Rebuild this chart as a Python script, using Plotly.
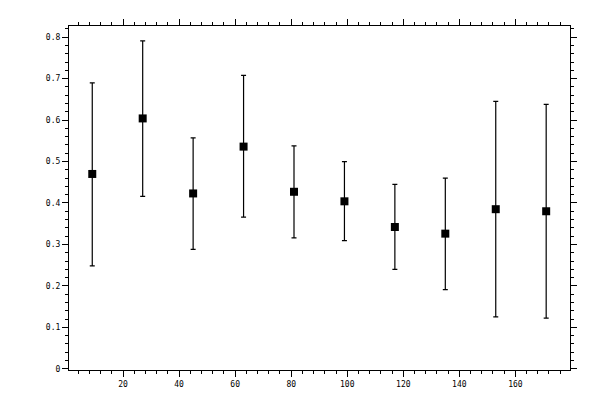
import plotly.graph_objects as go

# sample positions and measured means with their upper / lower bounds
x_pos = [9, 27, 45, 63, 81, 99, 117, 135, 153, 171]
mean_vals = [0.470, 0.604, 0.423, 0.536, 0.427, 0.404, 0.342, 0.326, 0.385, 0.380]
upper_vals = [0.690, 0.791, 0.557, 0.708, 0.538, 0.500, 0.445, 0.460, 0.645, 0.638]
lower_vals = [0.248, 0.416, 0.288, 0.366, 0.316, 0.309, 0.240, 0.191, 0.125, 0.122]

err_plus = [u - m for u, m in zip(upper_vals, mean_vals)]
err_minus = [m - l for m, l in zip(mean_vals, lower_vals)]

fig = go.Figure()

fig.add_trace(go.Scatter(
    x=x_pos,
    y=mean_vals,
    mode='markers',
    marker=dict(symbol='square', size=8, color='black'),
    error_y=dict(type='data', symmetric=False, array=err_plus, arrayminus=err_minus,
                 color='black', thickness=1.2, width=2.5),
    showlegend=False
))

tick_font = dict(family='DejaVu Sans Mono', size=8, color='black')

# boxed axes with ticks on every side, like the original
axis_common = dict(
    showgrid=False, zeroline=False,
    showline=True, linecolor='black', linewidth=1.2,
    mirror='ticks', ticks='outside', ticklen=6, tickwidth=1.2, tickcolor='black',
    tickfont=tick_font,
)

fig.update_xaxes(range=[0.7, 179.5], dtick=20, tick0=0,
                 minor=dict(dtick=4, ticklen=3, tickwidth=1, tickcolor='black', ticks='outside'),
                 **axis_common)
fig.update_yaxes(range=[-0.003, 0.827], dtick=0.1, tick0=0,
                 minor=dict(dtick=0.02, ticklen=3, tickwidth=1, tickcolor='black', ticks='outside'),
                 **axis_common)

# the page body adds an 8px offset, so the figure is a bit smaller than the window
fig.update_layout(
    width=592, height=392,
    margin=dict(l=61, r=30, t=11, b=30),
    plot_bgcolor='white', paper_bgcolor='white',
)

fig.write_html("out.html")
